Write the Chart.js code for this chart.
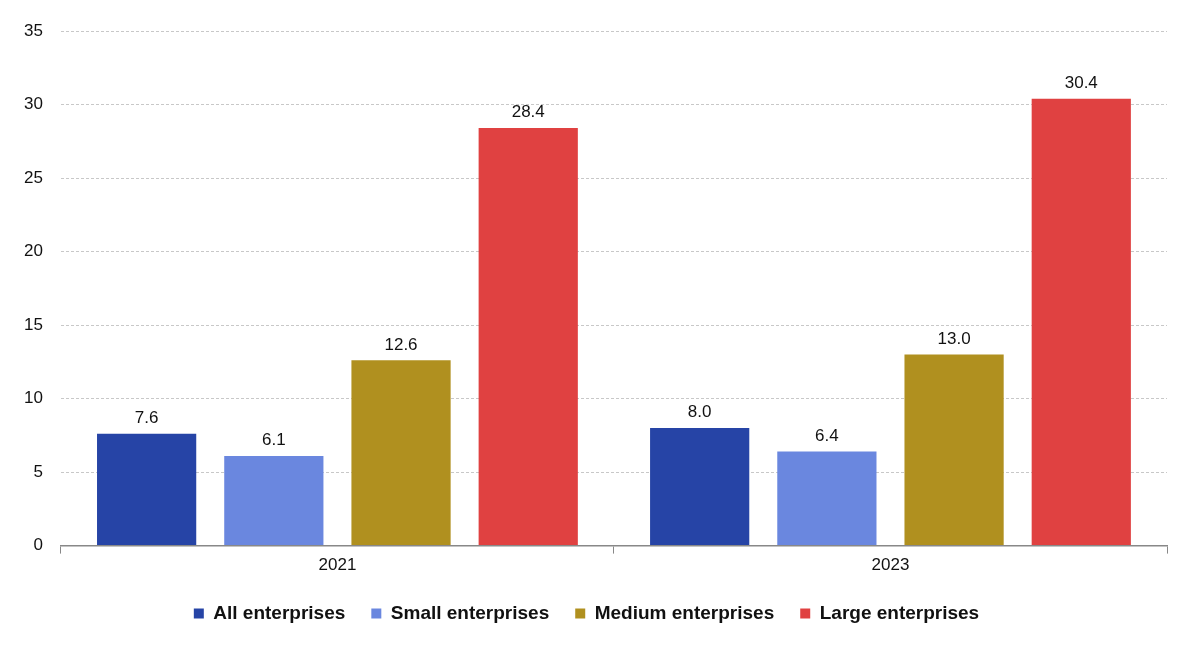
<!DOCTYPE html>
<html>
<head>
<meta charset="utf-8">
<script src="https://cdn.jsdelivr.net/npm/chart.js@4"></script>
<style>
  html, body { margin: 0; padding: 0; background: #fff; }
  #wrap { width: 1204px; height: 659px; }
</style>
</head>
<body>
<div id="wrap"><canvas id="barChart"></canvas></div>
<script>
// Years on the x axis
const years = ['2021', '2023'];

// Values per enterprise size class
const allEnterprises = [7.6, 8.0];
const smallEnterprises = [6.1, 6.4];
const mediumEnterprises = [12.6, 13.0];
const largeEnterprises = [28.4, 30.4];

const seriesNames = ['All enterprises', 'Small enterprises', 'Medium enterprises', 'Large enterprises'];
const seriesColors = ['#2644a6', '#6a87df', '#b0901f', '#e04141'];
const seriesValues = [allEnterprises, smallEnterprises, mediumEnterprises, largeEnterprises];

const fontFamily = '"Liberation Sans", Arial, sans-serif';

// Draw the value above each bar
const valueLabels = {
    id: 'valueLabels',
    afterDatasetsDraw(chart) {
        const ctx = chart.ctx;
        ctx.save();
        ctx.font = '17px ' + fontFamily;
        ctx.fillStyle = '#111';
        ctx.textAlign = 'center';
        ctx.textBaseline = 'bottom';
        chart.data.datasets.forEach((ds, i) => {
            chart.getDatasetMeta(i).data.forEach((bar, j) => {
                ctx.fillText(ds.data[j].toFixed(1), bar.x, bar.y - 7);
            });
        });
        ctx.restore();
    }
};

const ctx = document.getElementById('barChart').getContext('2d');

const barChart = new Chart(ctx, {
    type: 'bar',
    data: {
        labels: years,
        datasets: seriesNames.map((name, i) => ({
            label: name,
            data: seriesValues[i],
            backgroundColor: seriesColors[i],
            borderWidth: 0,
            categoryPercentage: 0.92,
            barPercentage: 0.78
        }))
    },
    options: {
        responsive: true,
        maintainAspectRatio: false,
        animation: false,
        layout: {
            padding: { left: 6, right: 37, top: 31, bottom: 26 }
        },
        plugins: {
            legend: {
                position: 'bottom',
                labels: {
                    usePointStyle: true,
                    pointStyle: 'rect',
                    boxWidth: 10,
                    boxHeight: 10,
                    padding: 26,
                    color: '#111',
                    font: { family: fontFamily, size: 19, weight: 'bold' }
                }
            },
            tooltip: { enabled: false }
        },
        scales: {
            x: {
                grid: {
                    display: true,
                    drawOnChartArea: false,
                    drawTicks: true,
                    tickLength: 8,
                    color: '#888'
                },
                border: { display: true, color: '#888', width: 1.5 },
                ticks: {
                    color: '#111',
                    padding: 2,
                    font: { family: fontFamily, size: 17 }
                }
            },
            y: {
                min: 0,
                max: 35,
                ticks: {
                    stepSize: 5,
                    color: '#111',
                    padding: 18,
                    font: { family: fontFamily, size: 17 }
                },
                grid: {
                    color: '#c8c8c8',
                    drawTicks: false
                },
                border: { display: false, dash: [3, 2] }
            }
        }
    },
    plugins: [valueLabels]
});
</script>
</body>
</html>
